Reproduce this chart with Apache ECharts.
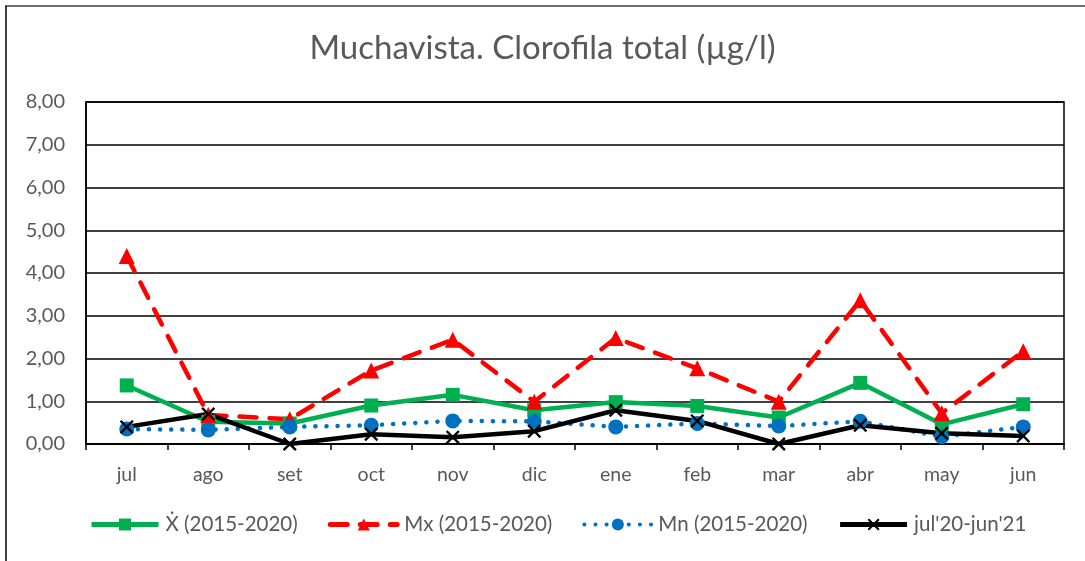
<!DOCTYPE html>
<html>
<head>
<meta charset="utf-8">
<script src="https://cdn.jsdelivr.net/npm/echarts@6/dist/echarts.min.js"></script>
<style>
  html, body { margin: 0; padding: 0; background: #fff; }
  #chart { width: 1085px; height: 561px; }
</style>
</head>
<body>
<div id="chart"></div>
<script>
// Months, July to June
const months = ['jul', 'ago', 'set', 'oct', 'nov', 'dic', 'ene', 'feb', 'mar', 'abr', 'may', 'jun'];

// Total chlorophyll (µg/l)
const meanValues = [1.37, 0.52, 0.48, 0.90, 1.15, 0.79, 0.98, 0.89, 0.62, 1.43, 0.46, 0.93];
const maxValues  = [4.40, 0.68, 0.58, 1.72, 2.44, 0.99, 2.48, 1.77, 0.99, 3.36, 0.72, 2.17];
const minValues  = [0.35, 0.33, 0.40, 0.44, 0.54, 0.53, 0.40, 0.48, 0.42, 0.53, 0.17, 0.40];
const currentValues = [0.40, 0.70, 0.00, 0.23, 0.16, 0.30, 0.79, 0.54, 0.00, 0.44, 0.25, 0.19];

const seriesNames = ['\u1E8A (2015-2020)', 'Mx (2015-2020)', 'Mn (2015-2020)', "jul'20-jun'21"];
const yTicks = [0, 1, 2, 3, 4, 5, 6, 7, 8];

const FONT = 'Lato, "Noto Sans", "DejaVu Sans", sans-serif';
const TEXT = '#595959';
const CROSS = 'path://M0,1.2 L1.2,0 L5,3.8 L8.8,0 L10,1.2 L6.2,5 L10,8.8 L8.8,10 L5,6.2 L1.2,10 L0,8.8 L3.8,5 Z';

const chart = echarts.init(document.getElementById('chart'));
chart.setOption({
  backgroundColor: '#fff',
  animation: false,
  title: {
    text: 'Muchavista. Clorofila total (\u00B5g/l)',
    left: 'center',
    top: 27,
    textStyle: { fontFamily: FONT, fontSize: 33, fontWeight: 'normal', color: TEXT }
  },
  graphic: [
    { type: 'line', shape: { x1: 5, y1: 6, x2: 1085, y2: 6 }, style: { stroke: '#404040', lineWidth: 1.5 } },
    { type: 'line', shape: { x1: 6, y1: 6, x2: 6, y2: 561 }, style: { stroke: '#000', lineWidth: 1.5 } }
  ],
  legend: {
    bottom: 21,
    left: 84,
    itemWidth: 67,
    itemHeight: 15,
    itemGap: 30,
    textStyle: { fontFamily: FONT, fontSize: 20.5, color: TEXT, padding: [0, 0, 0, 2] },
    data: [
      { name: seriesNames[0], lineStyle: { width: 5 } },
      { name: seriesNames[1], lineStyle: { width: 5 } },
      { name: seriesNames[2], lineStyle: { width: 4 } },
      { name: seriesNames[3], lineStyle: { width: 5 } }
    ]
  },
  grid: {
    left: 86, right: 21, top: 102, bottom: 117,
    show: true, borderColor: '#000', borderWidth: 1.5
  },
  xAxis: {
    type: 'category',
    data: months,
    boundaryGap: true,
    axisLine: { lineStyle: { color: '#000', width: 1.5 } },
    axisTick: { show: true, length: 6, lineStyle: { color: '#000', width: 1.5 } },
    axisLabel: { margin: 21, fontFamily: FONT, fontSize: 19.5, color: TEXT }
  },
  yAxis: {
    type: 'value',
    min: yTicks[0],
    max: yTicks[yTicks.length - 1],
    interval: 1,
    axisLine: { show: true, lineStyle: { color: '#000', width: 1.5 } },
    axisTick: { show: false },
    axisLabel: {
      margin: 21, fontFamily: FONT, fontSize: 20, color: TEXT,
      formatter: v => v.toFixed(2).replace('.', ',')
    },
    splitLine: { lineStyle: { color: '#000', width: 1.5 } }
  },
  series: [
    {
      name: seriesNames[0], type: 'line', data: meanValues,
      symbol: 'rect', symbolSize: 14,
      lineStyle: { color: '#00B050', width: 4.5 },
      itemStyle: { color: '#00B050' }
    },
    {
      name: seriesNames[1], type: 'line', data: maxValues,
      symbol: 'triangle', symbolSize: 16,
      lineStyle: { color: '#FF0000', width: 4.5, type: [17, 13], cap: 'round' },
      itemStyle: { color: '#FF0000' }
    },
    {
      name: seriesNames[2], type: 'line', data: minValues,
      symbol: 'circle', symbolSize: 15,
      lineStyle: { color: '#0070C0', width: 4.5, type: [0.1, 11], cap: 'round' },
      itemStyle: { color: '#0070C0' }
    },
    {
      name: seriesNames[3], type: 'line', data: currentValues,
      symbol: CROSS, symbolSize: 14,
      lineStyle: { color: '#000', width: 4.5 },
      itemStyle: { color: '#000' }
    }
  ]
});
</script>
</body>
</html>
